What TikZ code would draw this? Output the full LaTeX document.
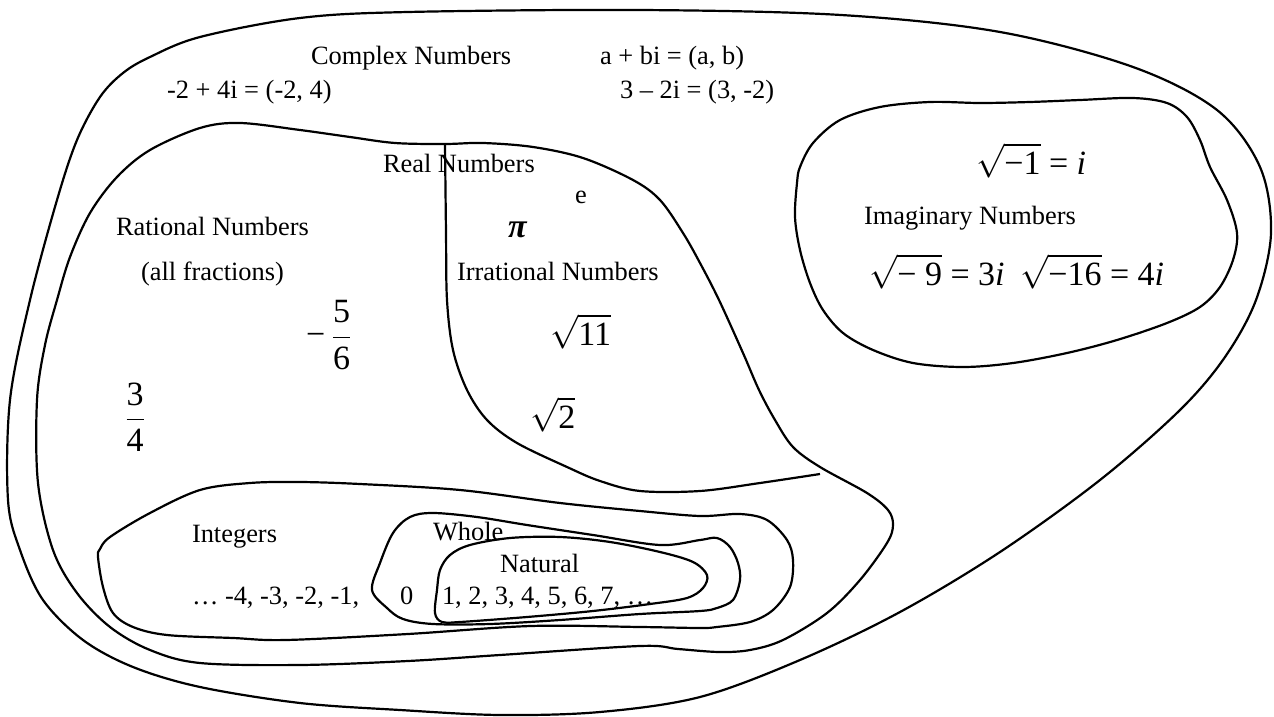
\documentclass[tikz,border=0pt]{standalone}
\usepackage{mathptmx}
\usepackage[no-math]{fontspec}
\setmainfont{Liberation Serif}
\newcommand{\rt}[1]{$\sqrt{\mbox{#1}}$}
\tikzset{
  curve/.style={draw=black, line width=1.1pt, line join=round},
  txt/.style={anchor=base west, inner sep=0pt, outer sep=0pt, font=\fontsize{13.2}{15}\selectfont},
  mth/.style={anchor=base west, inner sep=0pt, outer sep=0pt, font=\fontsize{17}{19}\selectfont},
}
\begin{document}
\begin{tikzpicture}[x=0.5pt, y=-0.5pt]
\useasboundingbox (0,0) rectangle (1274,717);
\fill[white] (0,0) rectangle (1274,717);

% Complex numbers (outer)
\draw[curve] plot[smooth cycle, tension=0.55] coordinates {
 (640,10) (841,15) (1000,32) (1133,67) (1217,110) (1260,167) (1271,233) (1256,300)
 (1225,357) (1180,410) (1100,480) (1000,552) (900,612) (800,660) (700,697) (600,712)
 (500,715) (400,710) (300,703) (200,687) (133,667) (83,640) (43,600) (20,550) (8,500)
 (10,400) (30,300) (57,200) (77,140) (100,97) (123,73) (150,57) (200,37) (300,18) (408,12)};

% Real numbers
\draw[curve] plot[smooth cycle, tension=0.55] coordinates {
 (445,144) (483,143) (533,147) (583,158) (633,180) (660,200) (683,233) (700,263)
 (719,300) (743,353) (759,390) (775,420) (793,447) (820,467) (867,493) (888,510)
 (893,525) (887,543) (860,580) (827,613) (783,640) (750,650) (719,652) (678,649)
 (640,646) (500,655) (408,661) (300,665) (200,663) (150,650) (110,627) (77,593)
 (53,550) (38,483) (37,400) (45,345) (57,300) (70,257) (90,213) (117,177) (150,150)
 (200,128) (240,123) (300,130) (350,137) (395,143)};

% Irrational boundary
\coordinate (irrA) at (445,144);
\coordinate (irrB) at (820,474);
\draw[curve] plot[smooth, tension=0.55] coordinates {
 (445,144) (446,233) (447,300) (453,350) (467,390) (487,420) (517,443) (567,467)
 (600,481) (640,491) (700,491) (760,483) (820,474)};

% Integers
\draw[curve] plot[smooth cycle, tension=0.55] coordinates {
 (100,549) (110,537) (150,513) (200,490) (250,483) (300,482) (360,484) (460,490)
 (560,503) (640,511) (700,516) (740,514) (767,520) (787,540) (793,560) (790,587)
 (773,610) (750,622) (717,627) (700,628) (640,627) (531,626) (408,634) (286,640)
 (233,638) (167,635) (133,627) (113,613) (103,587) (98,557)};

% Whole
\draw[curve] plot[smooth cycle, tension=0.55] coordinates {
 (372,590) (380,563) (393,533) (410,517) (433,513) (477,517) (527,525) (593,535)
 (660,545) (700,540) (717,538) (730,547) (738,563) (740,580) (733,600) (717,608)
 (700,611) (640,614) (560,620) (490,624) (433,624) (403,619) (387,608)};

% Natural
\draw[curve] plot[smooth cycle, tension=0.55] coordinates {
 (435,613) (437,590) (440,570) (450,555) (470,545) (510,538) (560,537) (610,542)
 (660,552) (693,562) (707,575) (703,588) (687,598) (650,604) (593,611) (527,617)
 (460,622) (442,622)};

% Imaginary
\draw[curve] plot[smooth cycle, tension=0.55] coordinates {
 (800,167) (813,143) (840,120) (880,107) (930,102) (980,103) (1030,102) (1080,100)
 (1133,98) (1167,103) (1187,117) (1200,140) (1210,167) (1227,200) (1237,233)
 (1233,260) (1220,287) (1200,307) (1167,323) (1117,340) (1067,353) (1013,363)
 (963,367) (913,363) (873,350) (843,333) (823,310) (810,283) (800,250) (795,217)
 (797,183)};

% Texts
\node[txt] (complex) at (311,65) {Complex Numbers};
\node[txt] (abi) at (600,65) {a + bi = (a, b)};
\node[txt] (ex1) at (167,98) {-2 + 4i = (-2, 4)};
\node[txt] (ex2) at (620,98) {3 – 2i = (3, -2)};
\node[txt] (real) at (383,172) {Real Numbers};
\node[txt] (e) at (575,203) {e};
\node[txt] (rational) at (116,235) {Rational Numbers};
\node[txt] (fractions) at (141,280) {(all fractions)};
\node[txt] (irrational) at (457,280) {Irrational Numbers};
\node[txt] (imaginary) at (864,224) {Imaginary Numbers};
\node[txt] (integers) at (192,542) {Integers};
\node[txt] (whole) at (433,540) {Whole};
\node[txt] (natural) at (500,572) {Natural};
\node[txt] (negs) at (192,604) {… -4, -3, -2, -1,};
\node[txt] (zero) at (400,604) {0};
\node[txt] (nats) at (442,604) {1, 2, 3, 4, 5, 6, 7, …};

% Math
\node[mth] (pi) at (508,237) {\textbf{\textit{π}}};
\node[mth] (sqrtm1) at (976,174) {\rt{−1} = \textit{i}};
\node[mth] (sqrtm9) at (869,285) {\rt{− 9} = 3\textit{i}};
\node[mth] (sqrtm16) at (1020,285) {\rt{−16} = 4\textit{i}};
\node[mth] (sqrt11) at (550,345) {\rt{11}};
\node[mth] (sqrt2) at (530,428) {\rt{2}};
\node[mth, anchor=west] (fiveSixths) at (306,335) {−\,$\displaystyle\frac{\mbox{5}}{\mbox{6}}$};
\node[mth, anchor=center] (threeQuarters) at (135,417) {$\displaystyle\frac{\mbox{3}}{\mbox{4}}$};
\end{tikzpicture}
\end{document}
